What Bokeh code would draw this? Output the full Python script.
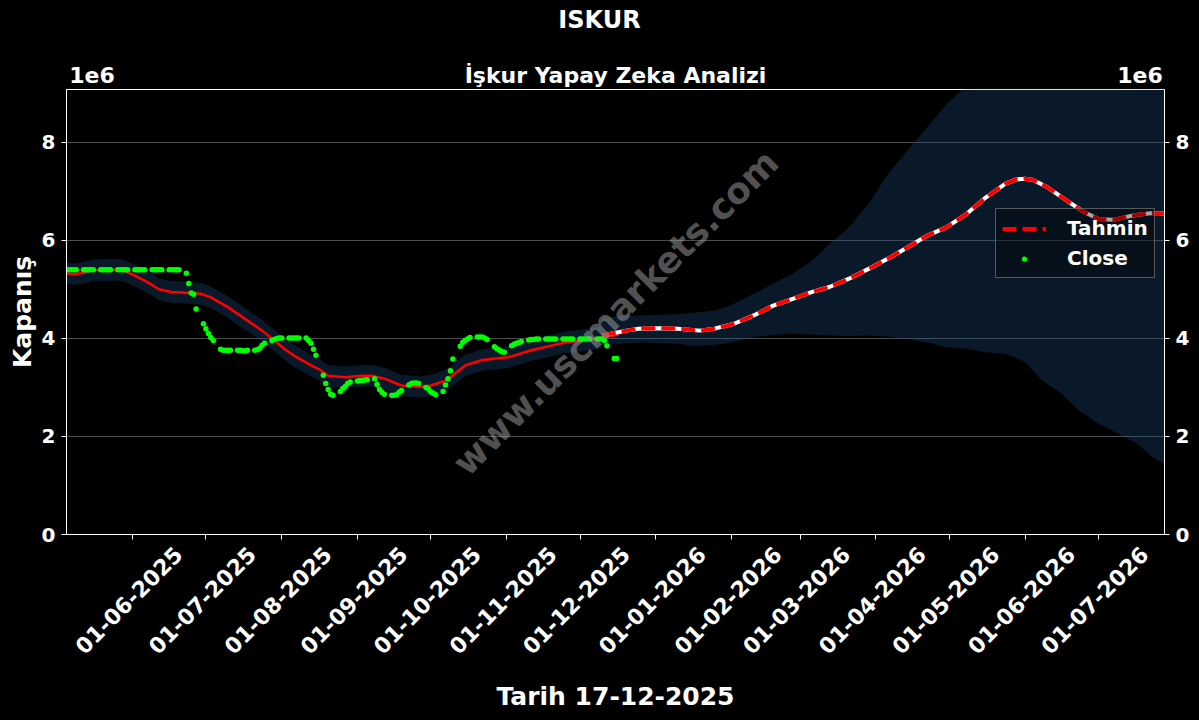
import numpy as np
import pandas as pd
from math import pi
from bokeh.plotting import figure
from bokeh.models import (Range1d, LinearAxis, FixedTicker, CustomJSTickFormatter,
                          Label, ColumnDataSource, Legend, LegendItem, AllLabels)
from bokeh.embed import file_html
from bokeh.resources import INLINE

FONT = "DejaVu Sans"

# ---------------- texts ----------------
TITLE = "ISKUR"
SUBTITLE = "İşkur Yapay Zeka Analizi"
X_LABEL = "Tarih 17-12-2025"
Y_LABEL = "Kapanış"
WATERMARK = "www.uscmarkets.com"
SCALE_LABEL = "1e6"

# ---------------- ticks ----------------
x_tick_dates = ["2025-06-01", "2025-07-01", "2025-08-01", "2025-09-01", "2025-10-01",
                "2025-11-01", "2025-12-01", "2026-01-01", "2026-02-01", "2026-03-01",
                "2026-04-01", "2026-05-01", "2026-06-01", "2026-07-01"]
x_tick_labels = ["01-06-2025", "01-07-2025", "01-08-2025", "01-09-2025", "01-10-2025",
                 "01-11-2025", "01-12-2025", "01-01-2026", "01-02-2026", "01-03-2026",
                 "01-04-2026", "01-05-2026", "01-06-2026", "01-07-2026"]
y_ticks = [0, 2e6, 4e6, 6e6, 8e6]

# ---------------- data (values in millions) ----------------
close_start, close_end = "2025-05-05", "2025-12-16"   # business days
close_may = [5.40, 5.40, 5.40, 5.40, 5.40, 5.40, 5.40, 5.40, 5.40, 5.40,
             5.40, 5.40, 5.40, 5.40, 5.40, 5.40, 5.40, 5.40, 5.40, 5.40]
close_jun = [5.40, 5.40, 5.40, 5.40, 5.40, 5.40, 5.40, 5.40, 5.40, 5.40,
             5.40, 5.40, 5.40, 5.40, 5.40, 5.33, 5.12, 4.93, 4.90, 4.60, 4.30]
close_jul = [4.20, 4.10, 4.02, 3.96, 3.78, 3.76, 3.76, 3.76, 3.76, 3.76,
             3.76, 3.75, 3.75, 3.76, 3.76, 3.77, 3.80, 3.86, 3.90, 3.96,
             3.98, 4.00, 4.01]
close_aug = [4.01, 4.01, 4.01, 4.01, 4.01, 4.01, 4.01, 3.96, 3.90, 3.78,
             3.66, 3.25, 3.08, 2.96, 2.86, 2.84, 2.92, 2.98, 3.02, 3.08, 3.11]
close_sep = [3.13, 3.14, 3.14, 3.15, 3.16, 3.18, 3.06, 2.96, 2.90, 2.86,
             2.84, 2.84, 2.85, 2.90, 2.94, 3.05, 3.08, 3.09, 3.09, 3.08,
             3.00, 2.97]
close_oct = [2.91, 2.88, 2.85, 2.92, 3.05, 3.18, 3.34, 3.58, 3.84, 3.92,
             3.96, 3.99, 4.02, 4.03, 4.03, 4.03, 4.01, 3.98, 3.83, 3.79,
             3.76, 3.73, 3.72]
close_nov = [3.85, 3.88, 3.90, 3.92, 3.94, 3.97, 3.98, 3.98, 3.99, 3.99,
             3.99, 3.99, 3.99, 3.99, 3.99, 3.99, 3.99, 3.99, 3.99, 3.99]
close_dec = [3.99, 3.99, 3.99, 3.99, 3.99, 3.99, 3.99, 3.99, 3.96, 3.85,
             3.59, 3.59]

fit_dates = ["2025-05-05", "2025-05-08", "2025-05-12", "2025-05-16", "2025-05-22",
             "2025-05-27", "2025-05-31", "2025-06-06", "2025-06-12", "2025-06-17",
             "2025-06-25", "2025-06-29", "2025-07-03", "2025-07-10", "2025-07-17",
             "2025-07-24", "2025-07-29", "2025-08-02", "2025-08-06", "2025-08-13",
             "2025-08-16", "2025-08-20", "2025-08-27", "2025-09-03", "2025-09-07",
             "2025-09-12", "2025-09-19", "2025-09-26", "2025-10-01", "2025-10-07",
             "2025-10-09", "2025-10-15", "2025-10-22", "2025-11-02", "2025-11-11",
             "2025-11-25", "2025-12-06", "2025-12-10", "2025-12-17"]
fit_values = [5.33, 5.31, 5.34, 5.39, 5.40, 5.40, 5.33, 5.18, 5.00, 4.95,
              4.93, 4.91, 4.84, 4.64, 4.40, 4.16, 3.96, 3.79, 3.65, 3.45,
              3.38, 3.24, 3.21, 3.24, 3.24, 3.18, 3.04, 3.01, 3.04, 3.14,
              3.21, 3.45, 3.56, 3.62, 3.76, 3.92, 3.99, 4.02, 4.08]
hist_band_half = 0.22

forecast_dates = ["2025-12-10", "2025-12-14", "2025-12-20", "2025-12-25", "2026-01-02",
                  "2026-01-10", "2026-01-19", "2026-01-25", "2026-02-02", "2026-02-10",
                  "2026-02-18", "2026-02-26", "2026-03-06", "2026-03-13", "2026-03-21",
                  "2026-03-29", "2026-04-06", "2026-04-14", "2026-04-22", "2026-04-30",
                  "2026-05-08", "2026-05-16", "2026-05-24", "2026-05-28", "2026-06-01",
                  "2026-06-04", "2026-06-10", "2026-06-17", "2026-06-25", "2026-07-01",
                  "2026-07-07", "2026-07-15", "2026-07-23", "2026-07-28"]
forecast_values = [4.05, 4.10, 4.16, 4.20, 4.21, 4.20, 4.16, 4.20, 4.30, 4.47,
                   4.67, 4.81, 4.95, 5.05, 5.22, 5.42, 5.63, 5.86, 6.10, 6.27,
                   6.54, 6.88, 7.16, 7.24, 7.26, 7.24, 7.09, 6.85, 6.58, 6.44,
                   6.42, 6.51, 6.56, 6.55]

fc_band_dates = ["2025-12-10", "2025-12-25", "2026-01-10", "2026-01-17", "2026-01-25",
                 "2026-01-29", "2026-02-02", "2026-02-10", "2026-02-18", "2026-02-26",
                 "2026-03-06", "2026-03-13", "2026-03-21", "2026-03-29", "2026-04-06",
                 "2026-04-14", "2026-04-22", "2026-04-30", "2026-05-08", "2026-05-16",
                 "2026-05-24", "2026-06-01", "2026-06-08", "2026-06-16", "2026-06-23",
                 "2026-07-01", "2026-07-09", "2026-07-17", "2026-07-23", "2026-07-28"]
fc_band_upper = [4.43, 4.47, 4.50, 4.53, 4.57, 4.63, 4.71, 4.91, 5.12, 5.32,
                 5.59, 5.93, 6.27, 6.75, 7.36, 7.84, 8.31, 8.79, 9.15, 9.50,
                 9.80, 10.10, 10.40, 10.70, 11.00, 11.30, 11.60, 11.90, 12.10, 12.30]
fc_band_lower = [3.86, 3.92, 3.89, 3.84, 3.87, 3.89, 3.93, 4.03, 4.07, 4.10,
                 4.08, 4.06, 4.05, 4.06, 4.04, 3.99, 3.92, 3.82, 3.79, 3.72,
                 3.69, 3.52, 3.14, 2.87, 2.53, 2.26, 2.06, 1.85, 1.58, 1.44]

M = 1e6
X_START, X_END = pd.Timestamp("2025-05-05"), pd.Timestamp("2026-07-28")
Y_MAX = 9.08e6

# ---------------- layout (page pixels) ----------------
W, H = 1199, 720
FL, FR, FT, FB = 66, 1164, 89, 534


def ms(t):
    return pd.Timestamp(t).value / 1e6


def fx(px):
    return ms(X_START) + (px - FL) / (FR - FL) * (ms(X_END) - ms(X_START))


def fy(py):
    return Y_MAX * (FB - py) / (FB - FT)


def dx_ms(px):
    return px / (FR - FL) * (ms(X_END) - ms(X_START))


close_values = close_may + close_jun + close_jul + close_aug + close_sep + close_oct + close_nov + close_dec
close_dt = pd.bdate_range(close_start, close_end)
assert len(close_dt) == len(close_values), (len(close_dt), len(close_values))

fit_dt = pd.to_datetime(fit_dates)
fit_v = np.array(fit_values) * M
fc_dt = pd.to_datetime(forecast_dates)
fc_v = np.array(forecast_values) * M
band_dt = pd.to_datetime(fc_band_dates)

p = figure(width=W, height=H, x_axis_type=None,
           x_range=Range1d(X_START, X_END), y_range=Range1d(0, Y_MAX),
           output_backend="svg", toolbar_location=None, title=None,
           min_border_left=FL, min_border_right=W - FR, min_border_top=FT,
           min_border_bottom=H - FB,
           background_fill_color="black", border_fill_color="black")

BAND = "#1f4f80"
BAND_ALPHA = 0.32
mask = fit_dt <= pd.Timestamp(forecast_dates[0])
hist_src = ColumnDataSource(dict(x=fit_dt[mask], lo=(fit_v[mask] - hist_band_half * M),
                                 hi=(fit_v[mask] + hist_band_half * M)))
p.varea(x="x", y1="lo", y2="hi", source=hist_src, fill_color=BAND, fill_alpha=BAND_ALPHA)
fc_src = ColumnDataSource(dict(x=band_dt, lo=np.array(fc_band_lower) * M, hi=np.array(fc_band_upper) * M))
p.varea(x="x", y1="lo", y2="hi", source=fc_src, fill_color=BAND, fill_alpha=BAND_ALPHA)

p.line(fit_dt, fit_v, line_color="#ff0000", line_width=2.5)
p.line(fc_dt, fc_v, line_color="white", line_width=4)
fc_line = p.line(fc_dt, fc_v, line_color="#ff0000", line_width=4, line_dash="14 6")
sc = p.scatter(close_dt, np.array(close_values) * M, size=5.5, fill_color="#00ff00",
               line_color="#00ff00", line_width=0)


# ---------------- axes ----------------
def style_axis(ax, size="20px"):
    ax.axis_line_color = "white"
    ax.axis_line_width = 1
    ax.major_tick_line_color = "white"
    ax.major_tick_out = 5
    ax.major_tick_in = 0
    ax.minor_tick_line_color = None
    ax.major_label_text_color = "white"
    ax.major_label_text_font = FONT
    ax.major_label_text_font_style = "bold"
    ax.major_label_text_font_size = size
    ax.axis_label_text_color = "white"
    ax.axis_label_text_font = FONT
    ax.axis_label_text_font_style = "bold"
    ax.axis_label_text_font_size = "25px"
    ax.major_label_policy = AllLabels()


def bare_axis(ax):
    ax.axis_line_color = None
    ax.major_tick_line_color = None
    ax.major_tick_out = 0


yfmt = CustomJSTickFormatter(code="return (tick / 1e6).toFixed(0);")
yax = p.yaxis[0]
style_axis(yax)
yax.ticker = FixedTicker(ticks=y_ticks)
yax.formatter = yfmt
yax.major_label_standoff = 6
yax.axis_label = Y_LABEL
yax.axis_label_standoff = 2

rax = LinearAxis(ticker=FixedTicker(ticks=y_ticks), formatter=yfmt)
style_axis(rax)
rax.major_label_standoff = 6
p.add_layout(rax, "right")

# x axis: real tick marks drawn as (white) minor ticks at the month starts;
# the rotated labels sit on invisible major ticks shifted right so that each
# label is centred under its month tick.
LABEL_SHIFT_PX = 46
tick_ms = [ms(d) for d in x_tick_dates]
xax = LinearAxis(ticker=FixedTicker(ticks=[t + dx_ms(LABEL_SHIFT_PX) for t in tick_ms],
                                    minor_ticks=tick_ms),
                 formatter=CustomJSTickFormatter(args=dict(labels=x_tick_labels),
                                                 code="return labels[index];"))
style_axis(xax, size="22px")
xax.major_tick_line_color = None
xax.minor_tick_line_color = "white"
xax.minor_tick_out = 5
xax.minor_tick_in = 0
xax.major_label_orientation = pi / 4
xax.major_label_standoff = 11
xax.axis_label = X_LABEL
xax.axis_label_standoff = 18
p.add_layout(xax, "below")

# above (nearest the frame): scale markers and the subtitle, as labels of a bare axis
top_texts = [SCALE_LABEL, SUBTITLE, SCALE_LABEL]
tax = LinearAxis(ticker=FixedTicker(ticks=[fx(91.5), fx(615), fx(1139.5)]),
                 formatter=CustomJSTickFormatter(args=dict(texts=top_texts),
                                                 code="return texts[index];"))
style_axis(tax, size="22px")
bare_axis(tax)
tax.major_label_standoff = 2
p.add_layout(tax, "above")

# above (outermost): the main title, centred on the page
ttl = LinearAxis(ticker=FixedTicker(ticks=[fx(599)]),
                 formatter=CustomJSTickFormatter(args=dict(texts=[TITLE]),
                                                 code="return texts[index];"))
style_axis(ttl, size="24px")
bare_axis(ttl)
ttl.major_label_standoff = 26
p.add_layout(ttl, "above")

p.xgrid.visible = False
p.ygrid.ticker = FixedTicker(ticks=y_ticks)
p.ygrid.grid_line_color = "white"
p.ygrid.grid_line_alpha = 0.3
p.outline_line_color = "white"
p.outline_line_width = 1
p.outline_line_alpha = 1

p.add_layout(Label(x=fx(615), y=fy(312), text=WATERMARK, text_align="center",
                   text_baseline="middle", angle=pi / 4, text_font=FONT,
                   text_font_style="bold", text_font_size="36px",
                   text_color="#9a9a9a", text_alpha=0.55))

# ---------------- legend ----------------
legend = Legend(items=[LegendItem(label="Tahmin", renderers=[fc_line]),
                       LegendItem(label="Close", renderers=[sc])],
                location=(929, 256), orientation="vertical",
                label_text_font=FONT, label_text_font_style="bold",
                label_text_font_size="20px", label_text_color="white",
                glyph_width=44, glyph_height=13, label_height=26, label_standoff=21,
                spacing=4, padding=6, margin=0,
                background_fill_color="black", background_fill_alpha=0.35,
                border_line_color="#8a8a8a", border_line_alpha=0.6, border_line_width=1)
p.add_layout(legend)

PAGE = """{% block postamble %}<style>html, body { background: #000000; }</style>{% endblock %}"""
open("out.html", "w").write(file_html(p, INLINE, template=PAGE))
